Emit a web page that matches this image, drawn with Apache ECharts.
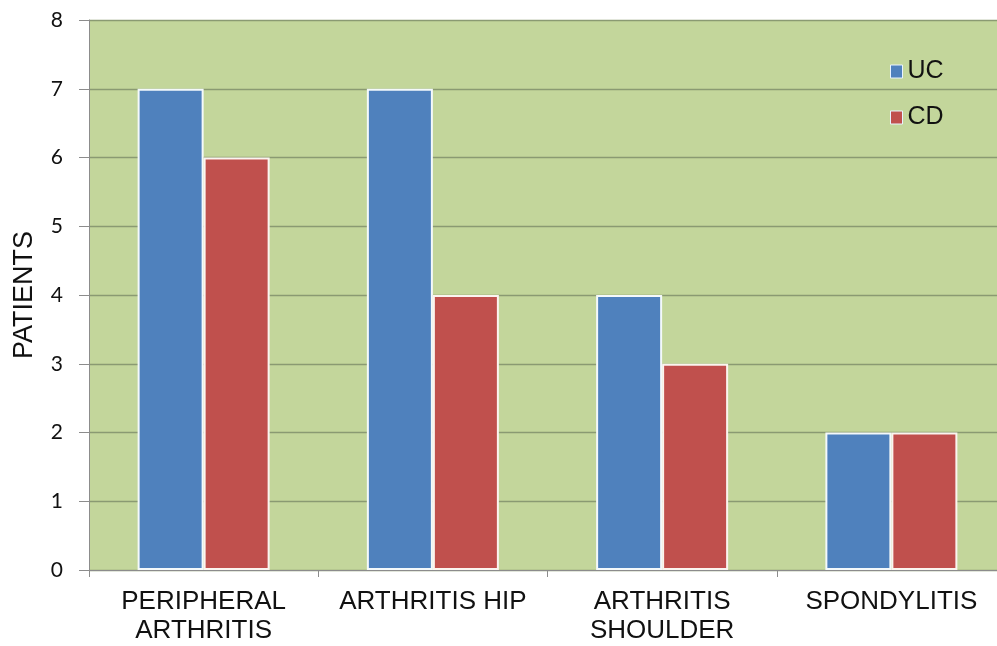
<!DOCTYPE html>
<html>
<head>
<meta charset="utf-8">
<script src="https://cdn.jsdelivr.net/npm/echarts@6/dist/echarts.min.js"></script>
<style>
  html, body { margin: 0; padding: 0; background: #fff; }
  #chart { width: 997px; height: 646px; }
</style>
</head>
<body>
<div id="chart"></div>
<script>
// Extra-intestinal manifestations by disease group
const categories = ['PERIPHERAL\nARTHRITIS', 'ARTHRITIS HIP', 'ARTHRITIS\nSHOULDER', 'SPONDYLITIS'];
const ucValues = [7, 7, 4, 2];
const cdValues = [6, 4, 3, 2];
const yTicks = [0, 1, 2, 3, 4, 5, 6, 7, 8];

const FONT = '"Liberation Sans", Arial, sans-serif';
const NUM_FONT = 'Lato, "Liberation Sans", sans-serif';
const chart = echarts.init(document.getElementById('chart'), null, { renderer: 'canvas' });

chart.setOption({
  animation: false,
  grid: {
    left: 89, right: -9, top: 20, bottom: 76,
    outerBoundsMode: 'none',
    show: true, backgroundColor: '#c3d69b', borderWidth: 0
  },
  legend: {
    orient: 'vertical',
    left: 885, top: 54,
    itemWidth: 12, itemHeight: 13, itemGap: 21,
    icon: 'rect',
    textStyle: { fontFamily: FONT, fontSize: 25, color: '#111', padding: [0, 0, 0, 0] },
    itemStyle: { borderColor: '#e8f3ff', borderWidth: 1 },
    data: ['UC', 'CD']
  },
  xAxis: {
    type: 'category',
    data: categories,
    axisLine: { show: true, lineStyle: { color: '#8c8c8c', width: 1 } },
    axisTick: { show: true, length: 7, lineStyle: { color: '#8c8c8c' } },
    axisLabel: {
      fontFamily: FONT, fontSize: 26, color: '#111', margin: 17,
      lineHeight: 29, interval: 0
    }
  },
  yAxis: {
    type: 'value',
    min: yTicks[0], max: yTicks[yTicks.length - 1], interval: 1,
    name: 'PATIENTS',
    nameLocation: 'middle',
    nameGap: 51,
    nameRotate: 90,
    nameTextStyle: { fontFamily: FONT, fontSize: 27, color: '#111' },
    axisLine: { show: true, lineStyle: { color: '#8c8c8c', width: 1 } },
    axisTick: { show: true, length: 10, lineStyle: { color: '#8c8c8c' } },
    axisLabel: { fontFamily: NUM_FONT, fontSize: 21, color: '#111', margin: 26 },
    splitLine: { show: true, lineStyle: { color: '#8a9a72', width: 1.3 } }
  },
  series: [
    {
      name: 'UC', type: 'bar', data: ucValues,
      barWidth: 66, barGap: '0%',
      itemStyle: { color: '#4f81bd', borderColor: '#f4f9fb', borderWidth: 2 }
    },
    {
      name: 'CD', type: 'bar', data: cdValues,
      barWidth: 66, barGap: '0%',
      itemStyle: { color: '#c0504d', borderColor: '#fbf4ef', borderWidth: 2 }
    }
  ]
});
</script>
</body>
</html>
